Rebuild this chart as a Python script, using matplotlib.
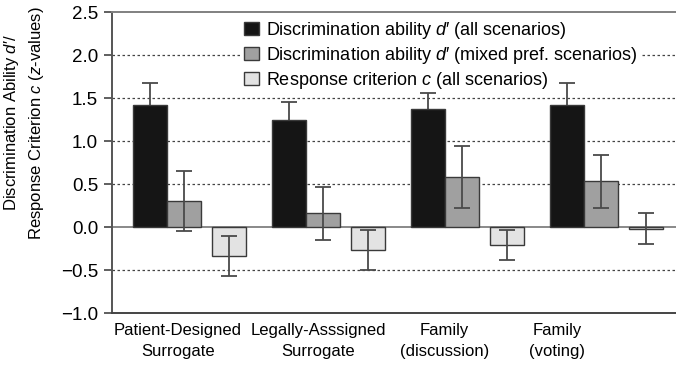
import numpy as np
import matplotlib
matplotlib.use("Agg")
import matplotlib.pyplot as plt

plt.rcParams["font.family"] = ["Liberation Sans", "DejaVu Sans"]
plt.rcParams["mathtext.fontset"] = "custom"
plt.rcParams["mathtext.rm"] = "Liberation Sans"
plt.rcParams["mathtext.it"] = "Liberation Sans:italic"

categories = ["Patient-Designed\nSurrogate", "Legally-Asssigned\nSurrogate",
              "Family\n(discussion)", "Family\n(voting)"]
label_pos = [0.20, 1.21, 2.12, 2.93]

dprime_all = [1.42, 1.24, 1.37, 1.42]
dprime_all_err = [0.25, 0.21, 0.19, 0.25]
dprime_mixed = [0.30, 0.16, 0.58, 0.53]
dprime_mixed_err = [0.35, 0.31, 0.36, 0.31]
crit_all = [-0.34, -0.27, -0.21, -0.02]
crit_all_err = [0.23, 0.23, 0.17, 0.18]

series = [
    ("Discrimination ability $d$′ (all scenarios)", dprime_all, dprime_all_err, "#151515", 0.0),
    ("Discrimination ability $d$′ (mixed pref. scenarios)", dprime_mixed, dprime_mixed_err, "#a0a0a0", 0.244),
    ("Response criterion $c$ (all scenarios)", crit_all, crit_all_err, "#e3e3e3", 0.57),
]

fig = plt.figure(figsize=(6.76, 3.72), dpi=100)
ax = fig.add_axes([0.1657, 0.1586, 0.8343, 0.8091])

x = np.arange(len(categories))
width = 0.245
for i, (name, vals, errs, color, off) in enumerate(series):
    ax.bar(x + off, vals, width, color=color, edgecolor="#3a3a3a", linewidth=1.0,
           label=name, zorder=3)
    # the lower half of the black bars' error bars is hidden behind the bar
    ax.errorbar(x + off, vals, yerr=errs, fmt="none", ecolor="#4a4a4a",
                elinewidth=1.3, capsize=6, capthick=1.3,
                zorder=2.5 if i == 0 else 4)

for yv in [-0.5, 0.5, 1.0, 1.5, 2.0]:
    ax.axhline(yv, color="#444444", linestyle=(0, (2, 2)), linewidth=0.9, zorder=1)
ax.axhline(0, color="#808080", linewidth=1.3, zorder=2)

ax.set_ylim(-1.0, 2.5)
ax.set_yticks([-1.0, -0.5, 0.0, 0.5, 1.0, 1.5, 2.0, 2.5])
ax.set_yticklabels(["\u22121.0", "\u22120.5", "0.0", "0.5", "1.0", "1.5", "2.0", "2.5"])
ax.set_xlim(-0.272, 3.785)
ax.set_xticks(label_pos)
ax.set_xticklabels(categories, linespacing=1.5)
ax.tick_params(axis="x", length=0, pad=7, labelsize=12)
ax.tick_params(axis="y", length=6, width=1.2, color="#444444", labelsize=13.5, pad=4)

ax.spines["right"].set_visible(False)
ax.spines["left"].set_color("#555555")
ax.spines["left"].set_linewidth(1.4)
ax.spines["top"].set_color("#808080")
ax.spines["top"].set_linewidth(1.4)
ax.spines["bottom"].set_color("#444444")
ax.spines["bottom"].set_linewidth(1.4)

fig.text(24 / 676, 1 - 123 / 372,
         "Discrimination Ability $d$′/\nResponse Criterion $c$ ($z$-values)",
         rotation=90, ha="center", va="center", fontsize=12, linespacing=1.4,
         multialignment="center")

leg = ax.legend(loc="upper left", bbox_to_anchor=(0.23, 0.983), fontsize=13,
                frameon=True, facecolor="white", edgecolor="none", framealpha=1,
                handlelength=0.8, handleheight=0.8, handletextpad=0.4,
                labelspacing=0.22, borderpad=0.15, borderaxespad=0)
leg.set_zorder(2.2)

fig.savefig("out.png", dpi=100)
